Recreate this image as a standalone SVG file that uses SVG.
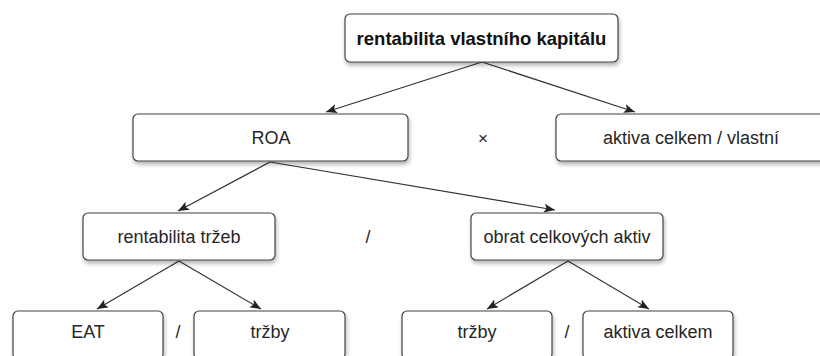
<svg xmlns="http://www.w3.org/2000/svg" width="820" height="356" viewBox="0 0 820 356">
<style>
.box{fill:#fff;stroke:#444;stroke-width:1.2;filter:url(#sh)}
.t{font-family:"Liberation Sans",Arial,sans-serif;font-size:18px;fill:#262626;text-anchor:middle}
.b{font-weight:bold;font-size:18.5px;fill:#111}
.c{fill:none;stroke:#333;stroke-width:1.2;marker-end:url(#ah)}
</style>
<defs>
<filter id="sh" x="-10%" y="-20%" width="120%" height="160%">
<feGaussianBlur in="SourceAlpha" stdDeviation="2"/>
<feOffset dx="1" dy="3" result="o"/>
<feComponentTransfer><feFuncA type="linear" slope="0.3"/></feComponentTransfer>
<feMerge><feMergeNode/><feMergeNode in="SourceGraphic"/></feMerge>
</filter>
<marker id="ah" markerUnits="userSpaceOnUse" markerWidth="13" markerHeight="11" refX="11" refY="4.5" orient="auto">
<path d="M0,0 L11,4.5 L0,9 L2.5,4.5 Z" fill="#222"/>
</marker>
</defs>
<g id="connectors">
<line class="c" x1="482" y1="62" x2="326" y2="112"/>
<line class="c" x1="482" y1="62" x2="635" y2="112"/>
<line class="c" x1="270" y1="162" x2="178" y2="211"/>
<line class="c" x1="270" y1="162" x2="555" y2="210"/>
<line class="c" x1="179" y1="261" x2="97" y2="309"/>
<line class="c" x1="179" y1="261" x2="261" y2="309"/>
<line class="c" x1="568" y1="261" x2="487" y2="309"/>
<line class="c" x1="568" y1="261" x2="649" y2="309"/>
</g>
<g id="n-roe"><rect class="box" x="345" y="14" width="273" height="48" rx="5"/><text class="t b" x="481.5" y="44.5">rentabilita vlastního kapitálu</text></g>
<g id="n-roa"><rect class="box" x="133" y="114" width="275" height="47" rx="5"/><text class="t" x="271" y="144">ROA</text></g>
<g id="op-x"><text class="t" x="483" y="144" style="font-size:17px">×</text></g>
<g id="n-aktiva-vlastni"><rect class="box" x="556" y="114" width="275" height="47" rx="5"/><text class="t" x="691" y="144">aktiva celkem / vlastní</text></g>
<g id="n-rt"><rect class="box" x="83" y="213" width="192" height="47" rx="5"/><text class="t" x="179" y="243">rentabilita tržeb</text></g>
<g id="op-div1"><text class="t" x="368" y="243">/</text></g>
<g id="n-oca"><rect class="box" x="471" y="213" width="192" height="47" rx="5"/><text class="t" x="567" y="243">obrat celkových aktiv</text></g>
<g id="n-eat"><rect class="box" x="13" y="311" width="150" height="48" rx="5"/><text class="t" x="88" y="338">EAT</text></g>
<g id="op-div2"><text class="t" x="178" y="338">/</text></g>
<g id="n-trzby1"><rect class="box" x="194" y="311" width="151" height="48" rx="5"/><text class="t" x="270" y="338">tržby</text></g>
<g id="n-trzby2"><rect class="box" x="402" y="311" width="150" height="48" rx="5"/><text class="t" x="477" y="338">tržby</text></g>
<g id="op-div3"><text class="t" x="567" y="338">/</text></g>
<g id="n-aktiva"><rect class="box" x="583" y="311" width="150" height="48" rx="5"/><text class="t" x="658" y="338">aktiva celkem</text></g>
</svg>
